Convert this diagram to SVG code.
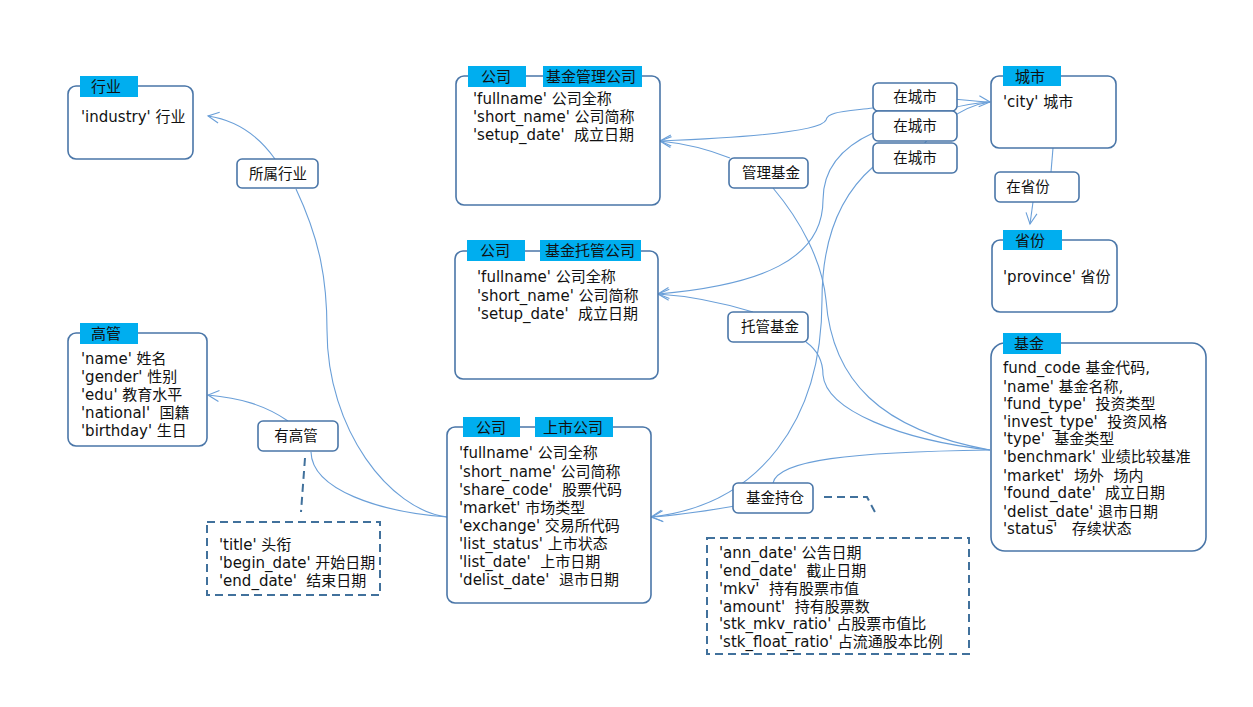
<svg xmlns="http://www.w3.org/2000/svg" width="1253" height="707" viewBox="0 0 1253 707" xml:space="preserve">
<defs>
<style>
text{font-family:"DejaVu Sans","Noto Sans CJK SC",sans-serif;font-size:15px;fill:#111;white-space:pre}
.box{fill:#fff;stroke:#4a76a8;stroke-width:1.6}
.tab{fill:#00aeef}
.tt{text-anchor:middle}
.lab{fill:#fff;stroke:#4a76a8;stroke-width:1.6}
.lt{text-anchor:middle;font-size:14.5px}
.dash{fill:none;stroke:#41719c;stroke-width:2;stroke-dasharray:8 5}
.c{fill:none;stroke:#6a9fd8;stroke-width:1.1}
</style>
<marker id="ar" viewBox="0 0 14 14" refX="12" refY="7" markerWidth="14" markerHeight="14" markerUnits="userSpaceOnUse" orient="auto">
<path d="M1,1.5 L12,7 L1,12.5" fill="none" stroke="#6a9fd8" stroke-width="1.1"/>
</marker>
</defs>
<rect width="1253" height="707" fill="#fff"/>
<g id="connectors">
<path class="c" d="M275,159 C258,135 235,120 208,116" marker-end="url(#ar)"/>
<path class="c" d="M296,189 C320,240 327,280 327,330 C327,430 390,510 447,517"/>
<path class="c" d="M288,421 C265,405 240,398 208,395" marker-end="url(#ar)"/>
<path class="c" d="M311,452 C312,490 380,512 447,517"/>
<path class="c" d="M730,158 C710,150 690,144 660,141" marker-end="url(#ar)"/>
<path class="c" d="M773,188 C800,220 822,260 826,300 C832,380 880,430 990,450"/>
<path class="c" d="M753,312 C720,302 690,296 658,294" marker-end="url(#ar)"/>
<path class="c" d="M806,342 C820,352 823,365 823,375 C826,410 900,440 990,450"/>
<path class="c" d="M735,506 C700,512 680,515 652,517" marker-end="url(#ar)"/>
<path class="c" d="M773,483 C778,460 850,452 990,450"/>
<path class="c" d="M873,108 C840,112 828,112 826,120 C822,130 760,137 660,141" marker-end="url(#ar)"/>
<path class="c" d="M873,133 C840,148 823,170 823,200 C823,260 760,285 658,294" marker-end="url(#ar)"/>
<path class="c" d="M873,167 C835,200 822,250 822,300 C822,420 760,505 651,517" marker-end="url(#ar)"/>
<path class="c" d="M915,97 C940,97 960,100 990,102" marker-end="url(#ar)"/>
<path class="c" d="M915,126 C940,110 960,104 990,102"/>
<path class="c" d="M915,158 C930,130 960,106 990,102"/>
<path class="c" d="M1053,148 L1051,172"/>
<path class="c" d="M1033,202 L1030,224" marker-end="url(#ar)"/>
<path class="dash" d="M305,458 L301,512"/>
<path class="dash" d="M824,497 L867,497 L877,516"/>
</g>
<g id="industry">
<rect class="box" x="68" y="86" width="125" height="73" rx="8"/>
<rect class="tab" x="80" y="76" width="58" height="21"/>
<text class="tt" x="106" y="92">行业</text>
<text x="81" y="122">'industry' 行业</text>
</g>
<g id="executive">
<rect class="box" x="68" y="333" width="139" height="113" rx="8"/>
<rect class="tab" x="80" y="323" width="58" height="21"/>
<text class="tt" x="106" y="339">高管</text>
<text x="81" y="364">'name' 姓名</text>
<text x="81" y="382">'gender' 性别</text>
<text x="81" y="400">'edu' 教育水平</text>
<text x="81" y="418">'national'  国籍</text>
<text x="81" y="436">'birthday' 生日</text>
</g>
<g id="exec-attrs">
<rect class="dash" x="207" y="522" width="173" height="73"/>
<text x="219" y="550">'title' 头衔</text>
<text x="219" y="568">'begin_date' 开始日期</text>
<text x="219" y="586">'end_date'  结束日期</text>
</g>
<g id="manager">
<rect class="box" x="456" y="76" width="204" height="129" rx="8"/>
<rect class="tab" x="468" y="66" width="58" height="21"/>
<rect class="tab" x="543" y="66" width="99" height="21"/>
<text class="tt" x="496" y="82">公司</text>
<text class="tt" x="591" y="82">基金管理公司</text>
<text x="473" y="104">'fullname' 公司全称</text>
<text x="473" y="122">'short_name' 公司简称</text>
<text x="473" y="140">'setup_date'  成立日期</text>
</g>
<g id="custodian">
<rect class="box" x="455" y="251" width="203" height="128" rx="8"/>
<rect class="tab" x="467" y="240" width="58" height="21"/>
<rect class="tab" x="540" y="240" width="101" height="21"/>
<text class="tt" x="495" y="256">公司</text>
<text class="tt" x="590" y="256">基金托管公司</text>
<text x="477" y="282">'fullname' 公司全称</text>
<text x="477" y="301">'short_name' 公司简称</text>
<text x="477" y="319">'setup_date'  成立日期</text>
</g>
<g id="listed">
<rect class="box" x="447" y="427" width="204" height="176" rx="8"/>
<rect class="tab" x="463" y="417" width="57" height="20"/>
<rect class="tab" x="535" y="417" width="78" height="20"/>
<text class="tt" x="491" y="433">公司</text>
<text class="tt" x="573" y="433">上市公司</text>
<text x="459" y="458">'fullname' 公司全称</text>
<text x="459" y="477">'short_name' 公司简称</text>
<text x="459" y="495">'share_code'  股票代码</text>
<text x="459" y="513">'market' 市场类型</text>
<text x="459" y="531">'exchange' 交易所代码</text>
<text x="459" y="549">'list_status' 上市状态</text>
<text x="459" y="567">'list_date'  上市日期</text>
<text x="459" y="585">'delist_date'  退市日期</text>
</g>
<g id="city">
<rect class="box" x="991" y="76" width="125" height="72" rx="8"/>
<rect class="tab" x="1003" y="66" width="58" height="20"/>
<text class="tt" x="1030" y="82">城市</text>
<text x="1003" y="107">'city' 城市</text>
</g>
<g id="province">
<rect class="box" x="992" y="240" width="125" height="72" rx="8"/>
<rect class="tab" x="1003" y="230" width="59" height="20"/>
<text class="tt" x="1030" y="246">省份</text>
<text x="1003" y="282">'province' 省份</text>
</g>
<g id="fund">
<rect class="box" x="991" y="343" width="215" height="208" rx="14"/>
<rect class="tab" x="1003" y="333" width="58" height="21"/>
<text class="tt" x="1029" y="349">基金</text>
<text x="1003" y="373">fund_code 基金代码,</text>
<text x="1003" y="392">'name' 基金名称,</text>
<text x="1003" y="409">'fund_type'  投资类型</text>
<text x="1003" y="427">'invest_type'  投资风格</text>
<text x="1003" y="444">'type'  基金类型</text>
<text x="1003" y="462">'benchmark' 业绩比较基准</text>
<text x="1003" y="481">'market'  场外  场内</text>
<text x="1003" y="498">'found_date'  成立日期</text>
<text x="1003" y="517">'delist_date' 退市日期</text>
<text x="1003" y="534">'status'   存续状态</text>
</g>
<g id="holding-attrs">
<rect class="dash" x="707" y="538" width="262" height="116"/>
<text x="719" y="558">'ann_date' 公告日期</text>
<text x="719" y="576">'end_date'  截止日期</text>
<text x="719" y="594">'mkv'  持有股票市值</text>
<text x="719" y="612">'amount'  持有股票数</text>
<text x="719" y="629">'stk_mkv_ratio' 占股票市值比</text>
<text x="719" y="647">'stk_float_ratio' 占流通股本比例</text>
</g>
<g id="lbl-industry"><rect class="lab" x="237" y="159" width="81" height="29" rx="5"/><text class="lt" x="278" y="179">所属行业</text></g>
<g id="lbl-exec"><rect class="lab" x="258" y="421" width="80" height="30" rx="5"/><text class="lt" x="296" y="441">有高管</text></g>
<g id="lbl-manage"><rect class="lab" x="729" y="158" width="79" height="30" rx="5"/><text class="lt" x="771" y="178">管理基金</text></g>
<g id="lbl-custody"><rect class="lab" x="728" y="312" width="80" height="30" rx="5"/><text class="lt" x="770" y="332">托管基金</text></g>
<g id="lbl-holding"><rect class="lab" x="733" y="483" width="80" height="30" rx="5"/><text class="lt" x="775" y="503">基金持仓</text></g>
<g id="lbl-city1"><rect class="lab" x="873" y="83" width="84" height="28" rx="5"/><text class="lt" x="915" y="102">在城市</text></g>
<g id="lbl-city2"><rect class="lab" x="873" y="111" width="84" height="30" rx="5"/><text class="lt" x="915" y="131">在城市</text></g>
<g id="lbl-city3"><rect class="lab" x="873" y="143" width="84" height="30" rx="5"/><text class="lt" x="915" y="163">在城市</text></g>
<g id="lbl-province"><rect class="lab" x="995" y="172" width="84" height="30" rx="5"/><text class="lt" x="1028" y="192">在省份</text></g>
</svg>
